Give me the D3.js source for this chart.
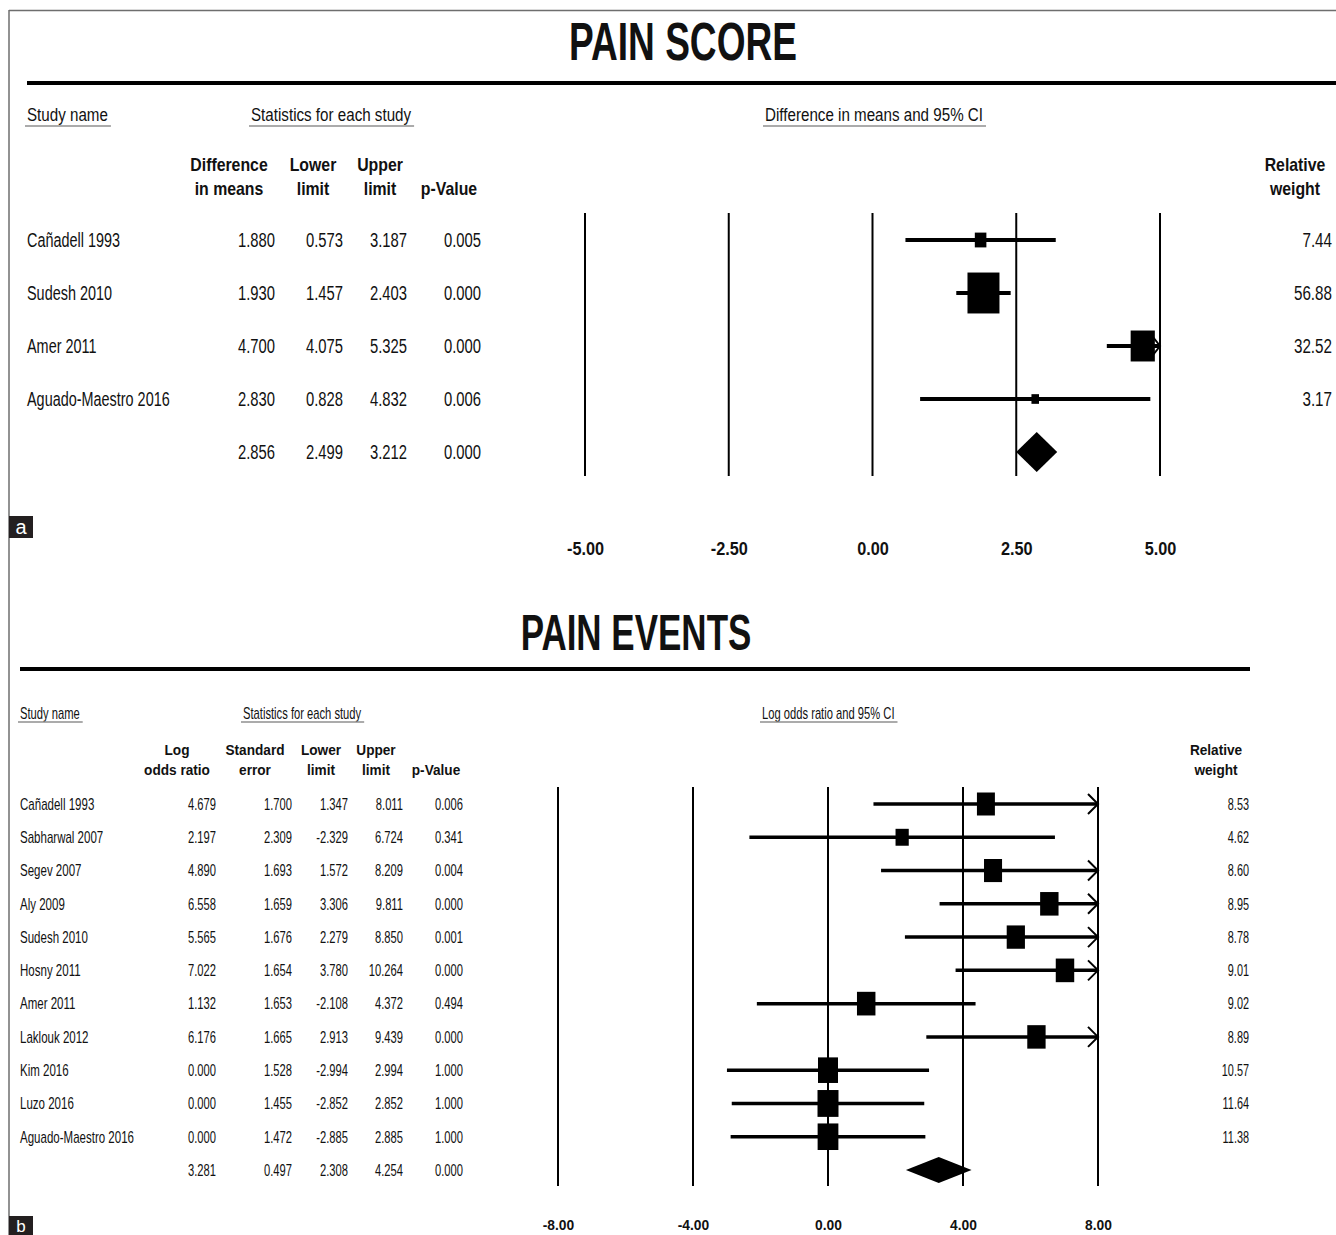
<!DOCTYPE html>
<html>
<head>
<meta charset="utf-8">
<script src="https://cdn.jsdelivr.net/npm/d3@7"></script>
<style>
  body { margin: 0; background: #fff; }
  svg { display: block; }
  text { font-family: "Liberation Sans", Arial, sans-serif; fill: #111; }
</style>
</head>
<body>
<div id="chart"></div>
<script>
// ---- Panel a: pain score (difference in means) ----
const scoreStudies = ['Cañadell 1993', 'Sudesh 2010', 'Amer 2011', 'Aguado-Maestro 2016']
const scoreDiff = [1.880, 1.930, 4.700, 2.830]
const scoreLower = [0.573, 1.457, 4.075, 0.828]
const scoreUpper = [3.187, 2.403, 5.325, 4.832]
const scoreP = [0.005, 0.000, 0.000, 0.006]
const scoreWeight = [7.44, 56.88, 32.52, 3.17]
const scoreSummary = [2.856, 2.499, 3.212, 0.000]   // diff, lower, upper, p
const scoreTicks = [-5, -2.5, 0, 2.5, 5]

// ---- Panel b: pain events (log odds ratio) ----
const eventStudies = ['Cañadell 1993', 'Sabharwal 2007', 'Segev 2007', 'Aly 2009', 'Sudesh 2010',
  'Hosny 2011', 'Amer 2011', 'Laklouk 2012', 'Kim 2016', 'Luzo 2016', 'Aguado-Maestro 2016']
const eventLogOR = [4.679, 2.197, 4.890, 6.558, 5.565, 7.022, 1.132, 6.176, 0.000, 0.000, 0.000]
const eventSE = [1.700, 2.309, 1.693, 1.659, 1.676, 1.654, 1.653, 1.665, 1.528, 1.455, 1.472]
const eventLower = [1.347, -2.329, 1.572, 3.306, 2.279, 3.780, -2.108, 2.913, -2.994, -2.852, -2.885]
const eventUpper = [8.011, 6.724, 8.209, 9.811, 8.850, 10.264, 4.372, 9.439, 2.994, 2.852, 2.885]
const eventP = [0.006, 0.341, 0.004, 0.000, 0.001, 0.000, 0.494, 0.000, 1.000, 1.000, 1.000]
const eventWeight = [8.53, 4.62, 8.60, 8.95, 8.78, 9.01, 9.02, 8.89, 10.57, 11.64, 11.38]
const eventSummary = [3.281, 0.497, 2.308, 4.254, 0.000]  // logOR, se, lower, upper, p
const eventTicks = [-8, -4, 0, 4, 8]

const W = 1336, H = 1235
const loc = d3.formatLocale({ decimal: '.', thousands: ',', grouping: [3], currency: ['', ''], minus: '-' })
const f3 = loc.format('.3f')
const f2 = loc.format('.2f')

const svg = d3.select('#chart').append('svg')
  .attr('width', W).attr('height', H)
  .attr('viewBox', `0 0 ${W} ${H}`)

// frame (top + left only)
svg.append('line').attr('x1', 9).attr('x2', W).attr('y1', 10.5).attr('y2', 10.5)
  .attr('stroke', '#6e6e6e').attr('stroke-width', 1.5)
svg.append('line').attr('x1', 9).attr('x2', 9).attr('y1', 10).attr('y2', H)
  .attr('stroke', '#6e6e6e').attr('stroke-width', 1.5)

function label(g, x, y, str, o) {
  return g.append('text')
    .attr('transform', `translate(${x},${y}) scale(${o.sx || 1},1)`)
    .attr('dy', '0.36em')
    .attr('text-anchor', o.anchor || 'start')
    .attr('font-size', o.size + 'px')
    .attr('font-weight', o.bold ? 'bold' : 'normal')
    .text(str)
}

function drawPanel(p) {
  const g = svg.append('g')

  // title + heavy rule
  label(g, p.titleX, p.titleY, p.title, { size: p.titleSize, bold: true, anchor: 'middle', sx: 0.7 })
  g.append('line')
    .attr('x1', p.ruleX[0]).attr('x2', p.ruleX[1])
    .attr('y1', p.ruleY).attr('y2', p.ruleY)
    .attr('stroke', '#000').attr('stroke-width', 4)

  // underlined section labels
  p.sections.forEach(([str, sx0]) => {
    const t = label(g, sx0, p.sectionY, str, { size: p.sectionSize, sx: p.sectionSx })
    const w = t.node().getComputedTextLength() * p.sectionSx
    g.append('line')
      .attr('x1', sx0 - 2).attr('x2', sx0 + w + 3)
      .attr('y1', p.underlineY).attr('y2', p.underlineY)
      .attr('stroke', '#8f8f8f').attr('stroke-width', 1.5)
  })

  // column headers
  p.columns.forEach(c => {
    c.head.forEach((h, k) => {
      if (h) label(g, c.cx, p.headY[k], h, { size: p.headSize, bold: true, anchor: 'middle', sx: p.headSx })
    })
  })
  label(g, p.weightCx, p.headY[0], 'Relative', { size: p.headSize, bold: true, anchor: 'middle', sx: p.headSx })
  label(g, p.weightCx, p.headY[1], 'weight', { size: p.headSize, bold: true, anchor: 'middle', sx: p.headSx })

  const n = p.studies.length
  const y = d3.scalePoint().domain(d3.range(n + 1)).range([p.rowTop, p.rowBottom])
  const x = d3.scaleLinear().domain(p.domain).range(p.range)
  const box = d3.scaleSqrt().domain([0, 100]).range([0, p.boxK * 10])

  // table rows
  p.studies.forEach((s, i) => {
    label(g, p.nameX, y(i), s, { size: p.bodySize, sx: p.nameSx })
    p.columns.forEach(c => {
      label(g, c.right, y(i), f3(c.values[i]), { size: p.bodySize, anchor: 'end', sx: p.numSx })
    })
    label(g, p.weightRight, y(i), f2(p.weights[i]), { size: p.bodySize, anchor: 'end', sx: p.weightSx })
  })
  p.columns.forEach((c, j) => {
    label(g, c.right, y(n), f3(p.summary[j]), { size: p.bodySize, anchor: 'end', sx: p.numSx })
  })

  // vertical reference lines at each tick
  g.append('g').selectAll('line')
    .data(p.ticks)
    .join('line')
    .attr('x1', d => x(d)).attr('x2', d => x(d))
    .attr('y1', p.gridTop).attr('y2', p.gridBottom)
    .attr('stroke', '#000').attr('stroke-width', 2)

  // tick labels
  const ax = g.append('g')
    .attr('transform', `translate(0,${p.tickY})`)
    .call(d3.axisBottom(x).tickValues(p.ticks).tickFormat(f2).tickSize(0).tickPadding(0))
  ax.select('.domain').remove()
  ax.selectAll('.tick text')
    .attr('dy', '0.36em')
    .attr('fill', '#111')
    .attr('font-size', p.tickSize + 'px')
    .attr('font-weight', 'bold')
    .attr('font-family', '"Liberation Sans", Arial, sans-serif')
    .attr('transform', `scale(${p.tickSx},1)`)

  // confidence intervals
  const [d0, d1] = p.domain
  const marks = g.append('g')
  p.studies.forEach((s, i) => {
    const lo = Math.max(p.lower[i], d0), hi = Math.min(p.upper[i], d1)
    const yy = y(i)
    marks.append('line')
      .attr('x1', x(lo)).attr('x2', x(hi))
      .attr('y1', yy).attr('y2', yy)
      .attr('stroke', '#000').attr('stroke-width', p.ciWidth)
    if (p.upper[i] > d1) {
      marks.append('polyline')
        .attr('points', [[x(d1) - p.arrow[0], yy - p.arrow[1]], [x(d1), yy], [x(d1) - p.arrow[0], yy + p.arrow[1]]].join(' '))
        .attr('fill', 'none').attr('stroke', '#000').attr('stroke-width', 2)
    }
    if (p.lower[i] < d0) {
      marks.append('polyline')
        .attr('points', [[x(d0) + p.arrow[0], yy - p.arrow[1]], [x(d0), yy], [x(d0) + p.arrow[0], yy + p.arrow[1]]].join(' '))
        .attr('fill', 'none').attr('stroke', '#000').attr('stroke-width', 2)
    }
    const w = box(p.weights[i]), h = w * 1.28
    marks.append('rect')
      .attr('x', x(p.effect[i]) - w / 2).attr('y', yy - h / 2)
      .attr('width', w).attr('height', h)
      .attr('fill', '#000')
  })

  // summary diamond
  const ys = y(n)
  const se = p.summaryEffect
  marks.append('path')
    .attr('d', `M${x(se[1])},${ys}L${x(se[0])},${ys - p.diamondH}L${x(se[2])},${ys}L${x(se[0])},${ys + p.diamondH}Z`)
    .attr('fill', '#000')

  // panel letter
  svg.append('rect').attr('x', 9).attr('y', p.letterY).attr('width', 24).attr('height', p.letterH).attr('fill', '#231f20')
  svg.append('text')
    .attr('x', 21).attr('y', p.letterY + p.letterH / 2).attr('dy', '0.36em')
    .attr('text-anchor', 'middle').attr('font-size', p.letterSize + 'px')
    .style('fill', '#fff')
    .text(p.letter)
}

drawPanel({
  title: 'PAIN SCORE', titleX: 683, titleY: 41, titleSize: 53,
  ruleY: 83, ruleX: [27, 1336],
  sections: [['Study name', 27], ['Statistics for each study', 251], ['Difference in means and 95% CI', 765]],
  sectionY: 114, underlineY: 126, sectionSize: 18.5, sectionSx: 0.82,
  headY: [165, 189], headSize: 18, headSx: 0.88,
  columns: [
    { head: ['Difference', 'in means'], cx: 229, right: 275, values: scoreDiff },
    { head: ['Lower', 'limit'], cx: 313, right: 343, values: scoreLower },
    { head: ['Upper', 'limit'], cx: 380, right: 407, values: scoreUpper },
    { head: ['', 'p-Value'], cx: 449, right: 481, values: scoreP }
  ],
  studies: scoreStudies, effect: scoreDiff, lower: scoreLower, upper: scoreUpper, weights: scoreWeight,
  summary: scoreSummary, summaryEffect: [scoreSummary[0], scoreSummary[1], scoreSummary[2]],
  rowTop: 240, rowBottom: 452, nameX: 27, bodySize: 19.5, nameSx: 0.74, numSx: 0.76,
  weightCx: 1295, weightRight: 1332, weightSx: 0.78,
  domain: [-5, 5], range: [585, 1160], ticks: scoreTicks,
  tickY: 548, tickSize: 18.5, tickSx: 0.88,
  gridTop: 213, gridBottom: 476,
  ciWidth: 4, boxK: 4.24, diamondH: 20, arrow: [7, 9],
  letter: 'a', letterY: 516, letterH: 22, letterSize: 20
})

drawPanel({
  title: 'PAIN EVENTS', titleX: 636, titleY: 632, titleSize: 50,
  ruleY: 669, ruleX: [20, 1250],
  sections: [['Study name', 20], ['Statistics for each study', 243], ['Log odds ratio and 95% CI', 762]],
  sectionY: 713, underlineY: 722, sectionSize: 16, sectionSx: 0.7,
  headY: [749, 769], headSize: 15.5, headSx: 0.88,
  columns: [
    { head: ['Log', 'odds ratio'], cx: 177, right: 216, values: eventLogOR },
    { head: ['Standard', 'error'], cx: 255, right: 292, values: eventSE },
    { head: ['Lower', 'limit'], cx: 321, right: 348, values: eventLower },
    { head: ['Upper', 'limit'], cx: 376, right: 403, values: eventUpper },
    { head: ['', 'p-Value'], cx: 436, right: 463, values: eventP }
  ],
  studies: eventStudies, effect: eventLogOR, lower: eventLower, upper: eventUpper, weights: eventWeight,
  summary: eventSummary, summaryEffect: [eventSummary[0], eventSummary[2], eventSummary[3]],
  rowTop: 804, rowBottom: 1170, nameX: 20, bodySize: 16, nameSx: 0.72, numSx: 0.7,
  weightCx: 1216, weightRight: 1249, weightSx: 0.68,
  domain: [-8, 8], range: [558, 1098], ticks: eventTicks,
  tickY: 1225, tickSize: 15, tickSx: 0.92,
  gridTop: 787, gridBottom: 1186,
  ciWidth: 3.5, boxK: 6.15, diamondH: 13, arrow: [10, 10],
  letter: 'b', letterY: 1216, letterH: 19, letterSize: 17
})
</script>
</body>
</html>
